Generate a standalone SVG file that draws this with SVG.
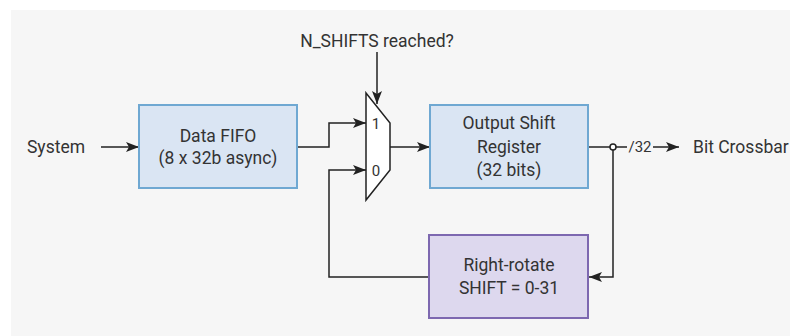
<svg xmlns="http://www.w3.org/2000/svg" width="790" height="336" viewBox="0 0 790 336">
<style>
text{font-family:Roboto,"Liberation Sans",sans-serif;font-size:17.5px;fill:#333}
.c{text-anchor:middle}
.s{font-size:15px}
.ln{fill:none;stroke:#222;stroke-width:1.5}
.blue{fill:#dae5f3;stroke:#6fa8d2;stroke-width:2}
.purple{fill:#ddd8ee;stroke:#7d68b0;stroke-width:2}
</style>
<defs>
<marker id="a" viewBox="0 0 13 10" refX="13" refY="5" markerWidth="13" markerHeight="10" markerUnits="userSpaceOnUse" orient="auto">
<path d="M0,0 L13,5 L0,10 L3,5 Z" fill="#222"/>
</marker>
</defs>
<rect x="0" y="0" width="790" height="336" fill="#fff"/>
<rect x="11" y="10" width="779" height="326" fill="#f6f6f6"/>
<g id="connectors">
<path class="ln" d="M101,147 H139" marker-end="url(#a)"/>
<path class="ln" d="M297,147 H329 V123 H366" marker-end="url(#a)"/>
<path class="ln" d="M377,52 V104" marker-end="url(#a)"/>
<path class="ln" d="M390,147 H430" marker-end="url(#a)"/>
<path class="ln" d="M588,147 H610"/>
<path class="ln" d="M616,147 H627"/>
<path class="ln" d="M653,147 H679" marker-end="url(#a)"/>
<path class="ln" d="M613,150 V277 H589" marker-end="url(#a)"/>
<path class="ln" d="M429,277 H329 V170 H366" marker-end="url(#a)"/>
<circle cx="613" cy="147" r="3" fill="#fff" stroke="#222" stroke-width="1.5"/>
<text x="640" y="152" class="c s">/32</text>
</g>
<g id="system"><text x="56" y="153" class="c">System</text></g>
<g id="fifo">
<rect class="blue" x="139" y="105" width="158" height="83"/>
<text x="218" y="142" class="c">Data FIFO</text>
<text x="218" y="164" class="c">(8 x 32b async)</text>
</g>
<g id="nshifts"><text x="377" y="47" class="c">N_SHIFTS reached?</text></g>
<g id="mux">
<path d="M366,93 L390,123 V170 L366,200 Z" fill="#fff" stroke="#222" stroke-width="1.5"/>
<text x="376" y="129" class="c s">1</text>
<text x="376" y="176" class="c s">0</text>
</g>
<g id="osr">
<rect class="blue" x="430" y="105" width="158" height="83"/>
<text x="509" y="129" class="c">Output Shift</text>
<text x="509" y="153" class="c">Register</text>
<text x="509" y="176" class="c">(32 bits)</text>
</g>
<g id="crossbar"><text x="693" y="153">Bit Crossbar</text></g>
<g id="rotate">
<rect class="purple" x="429" y="235" width="159" height="83"/>
<text x="509" y="271" class="c">Right-rotate</text>
<text x="509" y="294" class="c">SHIFT = 0-31</text>
</g>
</svg>
